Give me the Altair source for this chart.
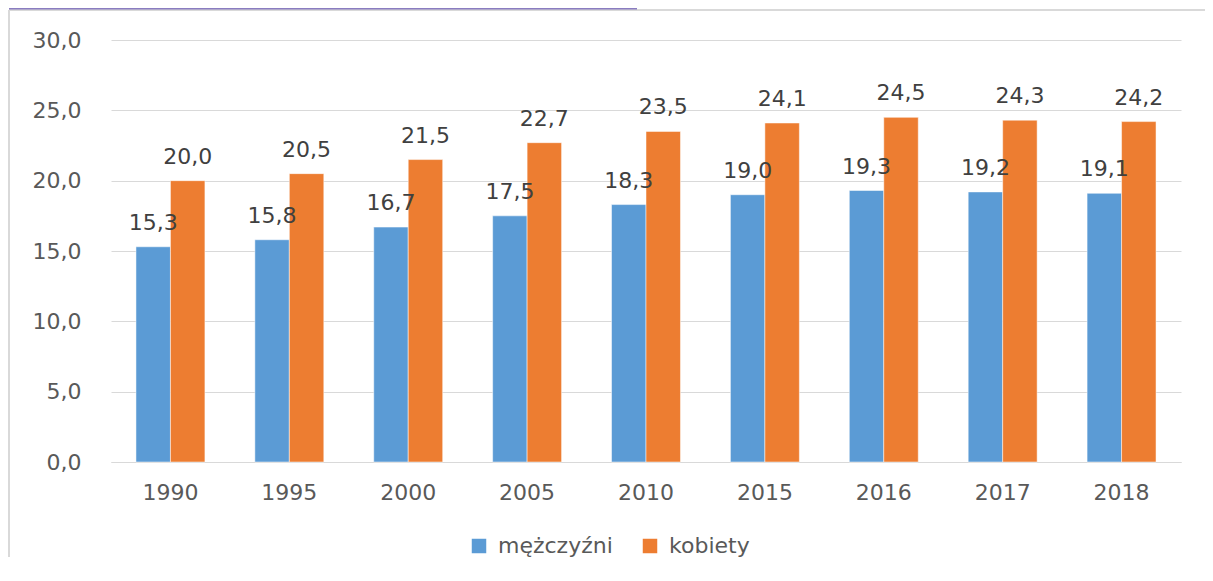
import altair as alt
import pandas as pd

years = ["1990", "1995", "2000", "2005", "2010", "2015", "2016", "2017", "2018"]
men = [15.3, 15.8, 16.7, 17.5, 18.3, 19.0, 19.3, 19.2, 19.1]
women = [20.0, 20.5, 21.5, 22.7, 23.5, 24.1, 24.5, 24.3, 24.2]
series = ["mężczyźni", "kobiety"]
colors = ["#5B9BD5", "#ED7D31"]

rows = []
for y, m, w in zip(years, men, women):
    rows.append({"year": y, "series": series[0], "value": m})
    rows.append({"year": y, "series": series[1], "value": w})
df = pd.DataFrame(rows)

FONT = "DejaVu Sans"
FS = 22
W, H = 1070, 422

base = alt.Chart(df).transform_calculate(
    label="replace(format(datum.value, '.1f'), '.', ',')"
).encode(
    x=alt.X("year:N", sort=years,
            scale=alt.Scale(paddingInner=0.42, paddingOuter=0.21),
            axis=alt.Axis(title=None, labelAngle=0, ticks=False, domain=True,
                          domainColor="#d9d9d9", labelFontSize=FS, labelColor="#595959",
                          labelFont=FONT, labelPadding=20, grid=False)),
    xOffset=alt.XOffset("series:N", sort=series),
)

bars = base.mark_bar(stroke="white", strokeWidth=0.5).encode(
    y=alt.Y("value:Q", scale=alt.Scale(domain=[0, 30]),
            axis=alt.Axis(title=None, values=[0, 5, 10, 15, 20, 25, 30],
                          labelExpr="replace(format(datum.value, '.1f'), '.', ',')",
                          ticks=False, domain=False, gridColor="#d9d9d9",
                          labelFontSize=FS, labelColor="#595959", labelFont=FONT,
                          labelPadding=30)),
    color=alt.Color("series:N", sort=series,
                    scale=alt.Scale(domain=series, range=colors),
                    legend=alt.Legend(title=None, orient="none", direction="horizontal",
                                      legendX=357, legendY=495, symbolType="square",
                                      symbolSize=210, symbolStrokeWidth=0,
                                      labelFontSize=FS, labelColor="#595959", labelFont=FONT,
                                      columnPadding=26, labelOffset=8, padding=0)),
)

texts = base.mark_text(baseline="alphabetic", dy=-17, fontSize=FS, font=FONT,
                       color="#404040").encode(
    y=alt.Y("value:Q"),
    text=alt.Text("label:N"),
)

border_left = alt.Chart(pd.DataFrame({"a": [0]})).mark_rule(color="#d9d9d9", strokeWidth=2).encode(
    x=alt.value(-102), y=alt.value(-30), y2=alt.value(H + 100))
border_top = alt.Chart(pd.DataFrame({"a": [0]})).mark_rule(color="#d9d9d9", strokeWidth=2).encode(
    x=alt.value(-102), x2=alt.value(W + 24), y=alt.value(-30))
purple = alt.Chart(pd.DataFrame({"a": [0]})).mark_rule(color="#8a7cc0", strokeWidth=2).encode(
    x=alt.value(-102), x2=alt.value(526), y=alt.value(-31.5))

chart = alt.layer(border_left, border_top, purple, bars, texts).properties(
    width=W, height=H,
    background="white",
    autosize=alt.AutoSizeParams(type="none"),
    padding={"left": 103, "top": 32, "right": 24, "bottom": 95},
).configure_view(stroke="transparent", strokeWidth=0)

chart.save("out.html", embed_options={"renderer": "svg", "actions": False})
